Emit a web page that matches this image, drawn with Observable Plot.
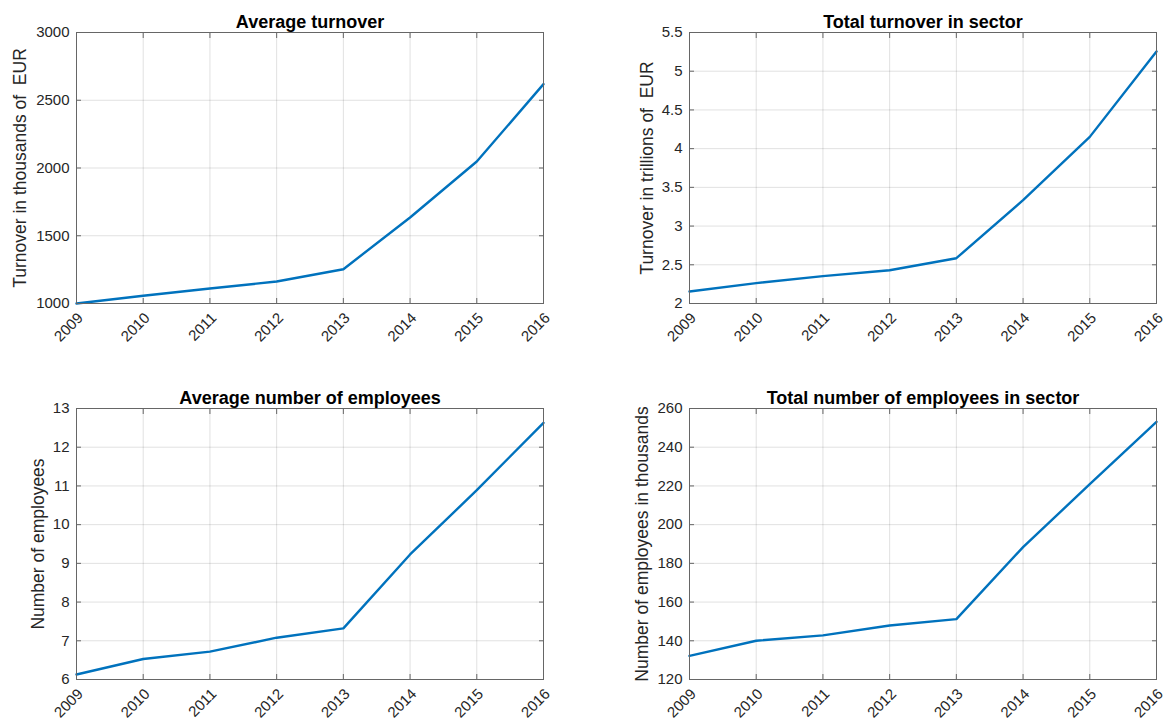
<!DOCTYPE html>
<html>
<head>
<meta charset="utf-8">
<script src="https://cdn.jsdelivr.net/npm/d3@7"></script>
<script src="https://cdn.jsdelivr.net/npm/@observablehq/plot@0.6"></script>
<style>
  html, body { margin: 0; padding: 0; background: #fff; }
  #root { position: relative; width: 1167px; height: 722px; overflow: hidden; }
  .panel { position: absolute; }
</style>
</head>
<body>
<div id="root"></div>
<script>
// ---- data ----
const years = [2009, 2010, 2011, 2012, 2013, 2014, 2015, 2016];
const avgTurnover = [1000, 1057, 1111, 1162, 1253, 1635, 2048, 2619];        // thousands EUR
const totalTurnover = [2.155, 2.263, 2.353, 2.430, 2.585, 3.334, 4.152, 5.254]; // trillions EUR
const avgEmployees = [6.13, 6.53, 6.72, 7.08, 7.32, 9.23, 10.89, 12.63];
const totalEmployees = [132.2, 140.0, 142.8, 147.9, 151.2, 188.4, 220.9, 253.1]; // thousands

const ticksAvgTurnover = [1000, 1500, 2000, 2500, 3000];
const ticksTotalTurnover = [2, 2.5, 3, 3.5, 4, 4.5, 5, 5.5];
const ticksAvgEmployees = [6, 7, 8, 9, 10, 11, 12, 13];
const ticksTotalEmployees = [120, 140, 160, 180, 200, 220, 240, 260];

const titles = ["Average turnover", "Total turnover in sector", "Average number of employees", "Total number of employees in sector"];
const yLabels = ["Turnover in thousands of  EUR", "Turnover in trillions of  EUR", "Number of employees", "Number of employees in thousands"];

const FONT = "'Liberation Sans', Arial, Helvetica, sans-serif";

function panel({values, yticks, title, ylabel, left, top, width, height, marginRight, marginBottom, labelDx}) {
  const data = years.map((y, i) => ({year: y, value: values[i]}));
  const ydomain = [yticks[0], yticks[yticks.length - 1]];
  const p = Plot.plot({
    width, height,
    marginLeft: 76, marginRight, marginTop: 32, marginBottom,
    style: {fontFamily: FONT, fontSize: "15px", color: "#262626", background: "white", overflow: "visible"},
    x: {domain: [2009, 2016]},
    y: {domain: ydomain},
    marks: [
      Plot.gridX(years, {stroke: "#000", strokeOpacity: 0.12}),
      Plot.gridY(yticks, {stroke: "#000", strokeOpacity: 0.12}),
      Plot.line(data, {x: "year", y: "value", stroke: "#0072BD", strokeWidth: 2.4}),
      Plot.frame({stroke: "#666"}),
      // inward ticks
      Plot.axisX(years, {anchor: "bottom", tickSize: -5, stroke: "#666", tickFormat: () => "", label: null}),
      Plot.axisX(years, {anchor: "top", tickSize: -5, stroke: "#666", tickFormat: () => "", label: null}),
      Plot.axisY(yticks, {anchor: "left", tickSize: -5, stroke: "#666", tickFormat: () => "", label: null}),
      Plot.axisY(yticks, {anchor: "right", tickSize: -5, stroke: "#666", tickFormat: () => "", label: null}),
      // tick labels
      Plot.axisX(years, {anchor: "bottom", tickSize: 0, tickPadding: 12, dx: 4, tickRotate: -45, tickFormat: d3.format("d"), label: null, fontSize: 15}),
      Plot.axisY(yticks, {anchor: "left", tickSize: 0, tickPadding: 7, tickFormat: d3.format("~g"), label: null, fontSize: 15}),
      // title
      Plot.text([title], {text: d => d, frameAnchor: "top", dy: -5, lineAnchor: "bottom", fontWeight: "bold", fontSize: 18, fill: "#000"}),
      // y label
      Plot.text([ylabel], {text: d => d, frameAnchor: "left", dx: labelDx, rotate: -90, textAnchor: "middle", lineAnchor: "middle", fontSize: 17.5, fill: "#262626"})
    ]
  });
  p.classList.add("panel");
  p.style.left = left + "px";
  p.style.top = top + "px";
  document.getElementById("root").appendChild(p);
}

panel({values: avgTurnover, yticks: ticksAvgTurnover, title: titles[0], ylabel: yLabels[0],
  left: 0, top: 0, width: 583, height: 361, marginRight: 40, marginBottom: 58, labelDx: -56});
panel({values: totalTurnover, yticks: ticksTotalTurnover, title: titles[1], ylabel: yLabels[1],
  left: 613, top: 0, width: 554, height: 361, marginRight: 11, marginBottom: 58, labelDx: -42});
panel({values: avgEmployees, yticks: ticksAvgEmployees, title: titles[2], ylabel: yLabels[2],
  left: 0, top: 376, width: 583, height: 346, marginRight: 40, marginBottom: 43, labelDx: -38});
panel({values: totalEmployees, yticks: ticksTotalEmployees, title: titles[3], ylabel: yLabels[3],
  left: 613, top: 376, width: 554, height: 346, marginRight: 11, marginBottom: 43, labelDx: -47});
</script>
</body>
</html>
